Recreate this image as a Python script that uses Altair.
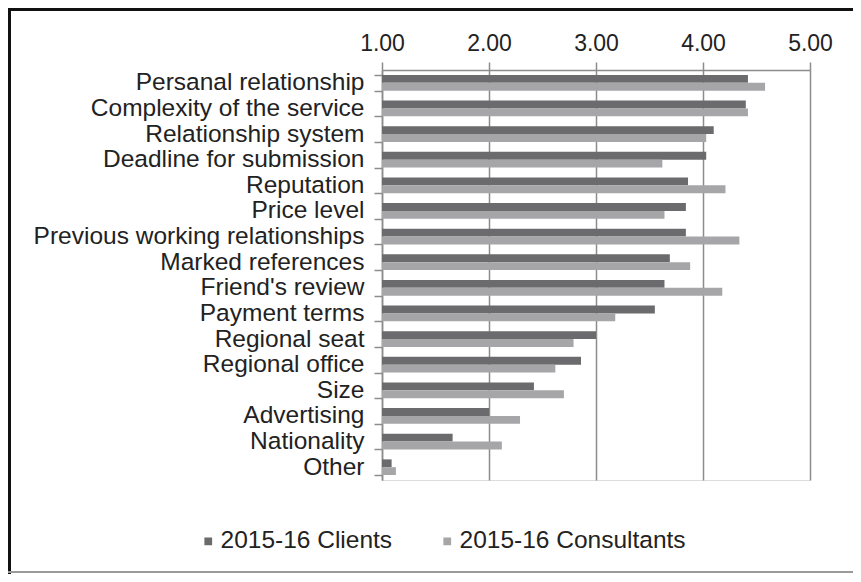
import altair as alt
import pandas as pd

categories = [
    "Persanal relationship", "Complexity of the service", "Relationship system",
    "Deadline for submission", "Reputation", "Price level",
    "Previous working relationships", "Marked references", "Friend's review",
    "Payment terms", "Regional seat", "Regional office", "Size",
    "Advertising", "Nationality", "Other",
]
clients = [4.42, 4.40, 4.10, 4.03, 3.86, 3.84, 3.84, 3.69, 3.64, 3.55, 3.00, 2.86, 2.42, 2.00, 1.66, 1.09]
consultants = [4.58, 4.42, 4.03, 3.62, 4.21, 3.64, 4.34, 3.88, 4.18, 3.18, 2.79, 2.62, 2.70, 2.29, 2.12, 1.13]
series = ["2015-16 Clients", "2015-16 Consultants"]
colors = ["#6b6b6e", "#a6a6a9"]
x_ticks = [1, 2, 3, 4, 5]

rows = []
for c, a, b in zip(categories, clients, consultants):
    rows.append({"factor": c, "series": series[0], "value": a})
    rows.append({"factor": c, "series": series[1], "value": b})
df = pd.DataFrame(rows)

FONT = "Liberation Sans"
W, H = 428, 410
PAD = {"left": 374, "top": 62, "right": 43, "bottom": 94}

bars = alt.Chart(df).mark_bar().encode(
    y=alt.Y("factor:N", sort=categories, title=None,
            scale=alt.Scale(paddingInner=0.39, paddingOuter=0.195),
            axis=alt.Axis(tickBand="extent", tickSize=8, tickColor="#8c8c8c",
                          tickWidth=1.5, domainColor="#8c8c8c", domainWidth=1.5,
                          labelFont=FONT, labelFontSize=24.5, labelColor="#222222",
                          labelPadding=10, labelLimit=400)),
    yOffset=alt.YOffset("series:N", sort=series,
                        scale=alt.Scale(paddingInner=0, paddingOuter=0)),
    x=alt.X("value:Q", title=None,
            scale=alt.Scale(domain=[1, 5], zero=False, nice=False),
            axis=alt.Axis(orient="top", values=x_ticks, format=".2f",
                          grid=True, gridColor="#8c8c8c", gridWidth=1.5,
                          tickSize=8, tickColor="#8c8c8c", tickWidth=1.5,
                          domainColor="#8c8c8c", domainWidth=1.5,
                          labelFlush=False,
                          labelFont=FONT, labelFontSize=23, labelColor="#222222",
                          labelPadding=7)),
    x2=alt.datum(1),
    color=alt.Color("series:N", sort=series,
                    scale=alt.Scale(domain=series, range=colors),
                    legend=alt.Legend(title=None, orient="none", direction="horizontal",
                                      legendX=-186, legendY=459,
                                      symbolType="square", symbolSize=60,
                                      symbolStrokeWidth=0, labelLimit=400,
                                      labelFont=FONT, labelFontSize=24.5,
                                      labelColor="#222222", columnPadding=42,
                                      labelOffset=0)),
)

one = pd.DataFrame({"k": [0]})
top_edge = alt.Chart(one).mark_rule(color="#111111", strokeWidth=3).encode(
    x=alt.value(-374), x2=alt.value(W + 43), y=alt.value(-60.5))
left_edge = alt.Chart(one).mark_rule(color="#111111", strokeWidth=3).encode(
    x=alt.value(-372.5), y=alt.value(-62), y2=alt.value(H + 94))
bottom_edge = alt.Chart(one).mark_rule(color="#9a9a9a", strokeWidth=2).encode(
    x=alt.value(-374), x2=alt.value(W + 43), y=alt.value(H + 92))

chart = alt.layer(top_edge, left_edge, bottom_edge, bars).properties(
    width=W, height=H, padding=PAD,
    autosize=alt.AutoSizeParams(type="none"),
).configure_view(stroke=None).configure(background="white")

chart.save("out.html", embed_options={"renderer": "svg", "actions": False})
